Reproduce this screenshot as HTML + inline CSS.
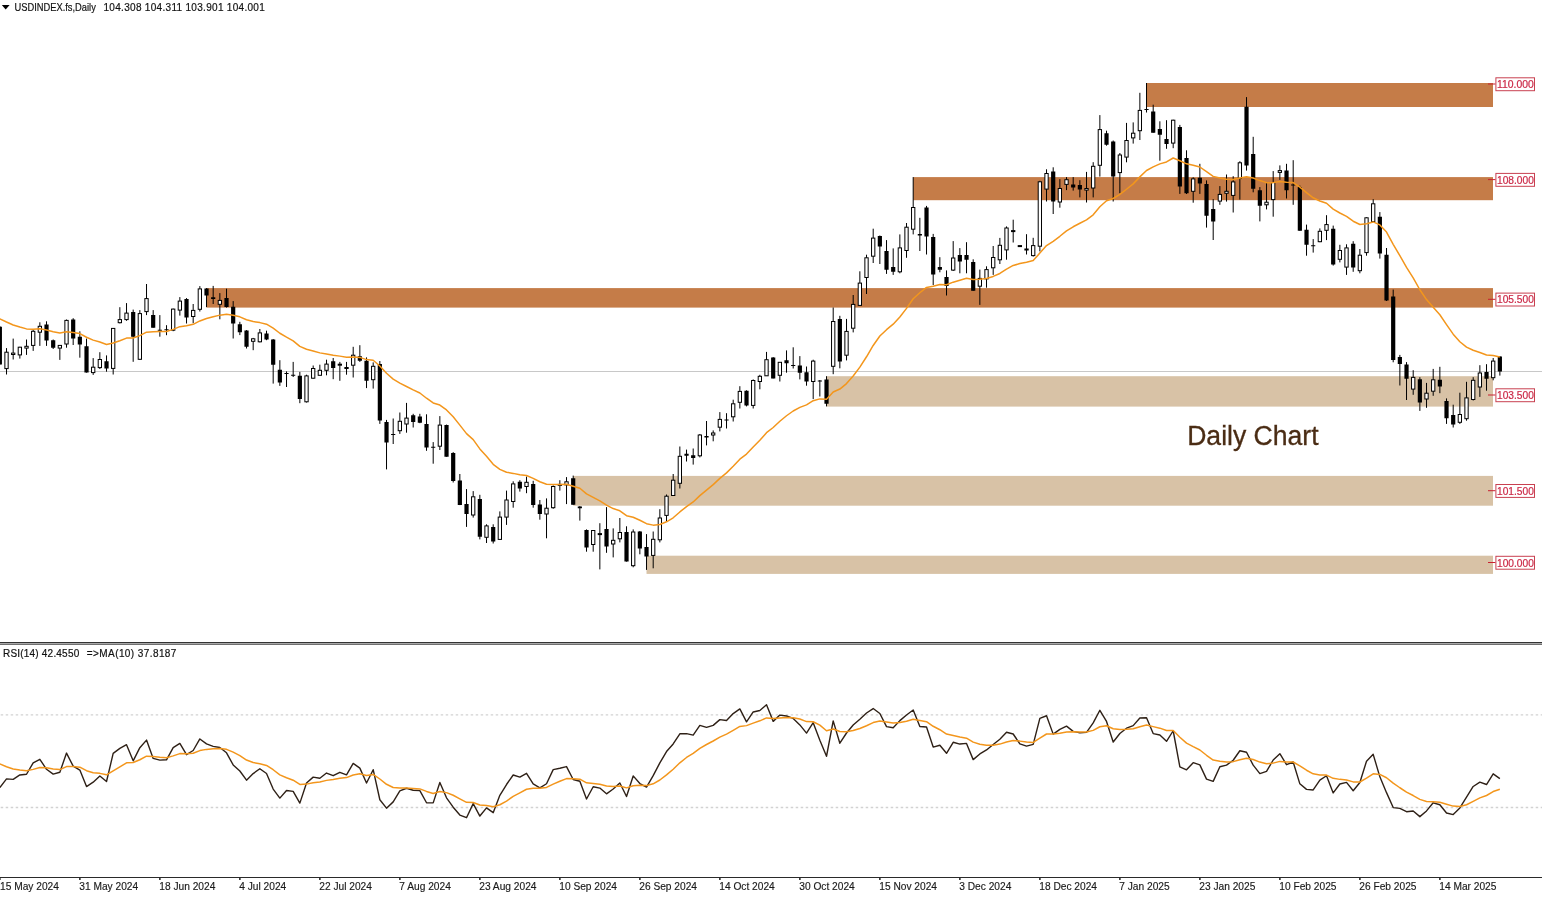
<!DOCTYPE html>
<html><head><meta charset="utf-8"><style>
html,body{margin:0;padding:0;background:#fff;}
body{width:1542px;height:897px;overflow:hidden;}
svg{display:block;will-change:transform;}
.tt{font-family:"Liberation Sans",sans-serif;font-size:10px;fill:#111;stroke:#111;stroke-width:0.18px;}
.dt{font-family:"Liberation Sans",sans-serif;font-size:10.2px;fill:#1a1a1a;stroke:#1a1a1a;stroke-width:0.15px;}
.lbl{font-family:"Liberation Sans",sans-serif;font-size:10.6px;fill:#cc2a48;stroke:#cc2a48;stroke-width:0.22px;}
.dc{font-family:"Liberation Sans",sans-serif;font-size:27px;fill:#4a2c14;stroke:#4a2c14;stroke-width:0.3px;}
</style></head><body>
<svg width="1542" height="897" viewBox="0 0 1542 897">
<rect x="1146.52" y="83" width="346.48" height="24" fill="#c57c48"/>
<rect x="913.19" y="177.1" width="579.81" height="23.1" fill="#c57c48"/>
<rect x="206.52" y="288.1" width="1286.48" height="19.5" fill="#c57c48"/>
<rect x="826.52" y="376.2" width="666.48" height="30.4" fill="#d8c2a6"/>
<rect x="573.19" y="475.9" width="919.81" height="29.8" fill="#d8c2a6"/>
<rect x="646.52" y="555.7" width="846.48" height="18.2" fill="#d8c2a6"/>
<rect x="0" y="371" width="1542" height="1" fill="#c8c8c8"/>
<path d="M-0.15 326V364.5M6.52 348.1V374.5M13.18 338.6V359.5M19.85 346.8V358.6M26.52 339.5V354.9M33.18 330V350.9M39.85 322.3V345.9M46.52 321.3V345.9M53.18 339.5V349M59.85 345V359.9M66.52 319.5V347.7M73.18 318.2V345M79.85 331.3V357.7M86.52 338.6V372.6M93.18 358.1V374.9M99.85 352.2V369M106.52 355.4V371.7M113.18 328.2V374.5M119.85 307.2V323.4M126.52 303.1V320.8M133.18 309.6V361.8M139.85 310.1V359.8M146.52 284V315.1M153.18 310.1V327.7M159.85 315.1V336.7M166.52 325.2V335.2M173.18 308.6V331.2M179.85 297.1V315.6M186.52 298.1V323.5M193.18 304V323.2M199.85 286.1V311.5M206.52 288.1V307.1M213.18 285.9V304M219.85 293.1V319.3M226.52 288.7V307.6M233.18 301.1V338.5M239.85 321.8V335.1M246.52 330.1V348.5M253.18 337.9V350.2M259.85 329V342.4M266.52 330.7V340.2M273.18 339V383.6M279.85 360.2V385.9M286.52 371.4V387M293.18 361.9V377M299.85 371.9V403.2M306.52 374.7V402.5M313.18 365.5V378.6M319.85 364.7V375.3M326.52 359.7V375.3M333.19 358V379.2M339.85 361.9V380.8M346.52 361.9V374.7M353.19 346.8V377.5M359.85 345.2V361.9M366.52 357.4V388.1M373.19 362.4V388.6M379.85 361V423.9M386.52 419.9V469.4M393.19 418.5V444M399.85 412.5V433.9M406.52 402.9V432.7M413.19 413.8V427.5M419.85 413.8V423.2M426.52 414.3V450.8M433.19 442.1V463.7M439.85 416.1V450M446.52 424.6V456.7M453.19 452.1V482.5M459.85 474V505.1M466.52 489.1V526.9M473.19 491.1V517.6M479.85 494.8V539.4M486.52 524.3V543M493.19 524.3V543.5M499.85 511.4V539.4M506.52 490.6V524.9M513.19 481.3V507.7M519.85 480.2V491.6M526.52 476.6V493.2M533.19 480.8V507.7M539.85 500V519.7M546.52 498.4V538.3M553.19 485.4V508.8M559.85 480.2V490.6M566.52 477.1V504.1M573.19 475.6V504.8M579.85 506.1V520.6M586.52 529.4V551.7M593.19 530V551.7M599.85 523.2V569.4M606.52 507.1V552.8M613.19 528.4V557.4M619.85 518V542.4M626.52 526.3V561.6M633.19 529.4V567.3M639.85 531V554.3M646.52 534.1V569.9M653.19 531.5V568.3M659.85 509.2V542.4M666.52 494.5V521.1M673.19 474V495.7M679.85 446.5V488.5M686.52 449.6V461.5M693.19 448.5V464.6M699.85 434V457.4M706.52 421V445.4M713.19 430.4V441.3M719.85 412.1V431.4M726.52 413.2V428.5M733.19 399.7V421.5M739.85 386.2V408.5M746.52 390.3V406.4M753.19 379.4V408.5M759.85 374.8V389.3M766.52 351.9V375.8M773.19 357.1V378.4M779.85 362.3V381.5M786.52 350.4V372.7M793.19 347.3V368.5M799.85 356.1V379.4M806.52 366.5V385.7M813.19 359.7V399.1M819.85 380V396.5M826.52 376.2V406.4M833.19 307.5V374.2M839.85 315.8V368.3M846.52 318.9V360.4M853.19 295V332.4M859.85 271.3V305.4M866.52 254.7V294M873.19 228.7V263M879.85 235.5V264M886.52 240.1V273.9M893.19 248.4V274.9M899.85 234.4V273.3M906.52 223V257.8M913.19 177.1V234.4M919.85 217.8V251M926.52 205.9V254.5M933.19 233.9V285.1M939.85 257.2V272.3M946.52 270.4V295.5M953.19 241.1V271M959.85 248.1V273.3M966.52 242.2V273.3M973.19 259.3V290.8M979.85 269.6V304.9M986.52 266.3V287.7M993.19 246V274.9M999.86 237.9V264M1006.52 226.4V259.7M1013.19 219.7V242.5M1019.86 245.6V246.6M1026.52 234.2V254.5M1033.19 237.8V256.6M1039.86 180.8V251.4M1046.52 169.3V201.5M1053.19 167.3V214M1059.86 179.2V207.7M1066.52 177.1V190.1M1073.19 177.1V190.6M1079.86 180.2V197.4M1086.52 171.9V202.5M1093.19 162.2V197.4M1099.86 115.1V176.6M1106.52 130.7V145.7M1113.19 140.5V201.5M1119.86 153V193.2M1126.52 122.9V162.3M1133.19 122.4V143.6M1139.86 92.8V140M1146.52 83V112.5M1153.19 104.7V132.7M1159.86 121.3V160.7M1166.52 120.2V148.8M1173.19 119.7V148.2M1179.86 124.9V193.9M1186.52 150.3V194M1193.19 177.3V202.7M1199.86 163.8V193.9M1206.52 180.4V227.6M1213.19 199.1V240M1219.86 186.1V204.8M1226.52 174.5V201.6M1233.19 176.2V212.5M1239.86 161.2V199.6M1246.52 97.1V170.6M1253.19 136.8V192.3M1259.86 187.1V221.4M1266.52 183V209.4M1273.19 171.1V216.7M1279.86 165.4V179.9M1286.52 163.8V198.5M1293.19 160.2V204.8M1299.86 185.6V230.8M1306.52 224.6V255.7M1313.19 239.1V252.6M1319.86 228.4V242.2M1326.52 215.2V240.1M1333.19 225.6V265.6M1339.86 244.8V262.4M1346.52 244.3V274.9M1353.19 241.2V271.8M1359.86 249V273.3M1366.52 217.3V255.7M1373.19 199.2V221.5M1379.86 212.1V258.6M1386.52 248V301M1393.19 289.6V362.3M1399.86 354.9V385.5M1406.52 362.1V400M1413.19 370.2V394.8M1419.86 377.2V410.9M1426.52 382.9V407.8M1433.19 368.9V395.8M1439.86 366.8V393.2M1446.52 398.4V423.9M1453.19 404.7V427.5M1459.86 392.7V423.9M1466.52 381.8V420.7M1473.19 377.2V400.5M1479.86 365.2V396.9M1486.52 364.2V390.7M1493.19 358V380.3M1499.86 356V375.6" stroke="#000" stroke-width="1.0" fill="none"/>
<path d="M-2.25 326.8h4.2V364.5h-4.2ZM44.42 324.5h4.2V340.4h-4.2ZM51.08 340.2h4.2V347.7h-4.2ZM71.08 319.5h4.2V338.6h-4.2ZM77.75 336.8h4.2V344.5h-4.2ZM84.42 346.3h4.2V372.6h-4.2ZM104.42 361.3h4.2V368.6h-4.2ZM131.08 312h4.2V336.7h-4.2ZM151.08 315.1h4.2V327.7h-4.2ZM157.75 329.7h4.2V330.7h-4.2ZM164.42 329.2h4.2V330.2h-4.2ZM184.42 299h4.2V317.6h-4.2ZM204.42 288.4h4.2V295.6h-4.2ZM211.08 297.3h4.2V299h-4.2ZM224.42 298.1h4.2V307.1h-4.2ZM231.08 306.7h4.2V323.4h-4.2ZM237.75 324.2h4.2V332.3h-4.2ZM244.42 330.5h4.2V346.8h-4.2ZM264.42 333.5h4.2V339.6h-4.2ZM271.08 339.6h4.2V364.7h-4.2ZM277.75 369.7h4.2V382.5h-4.2ZM284.42 373.1h4.2V374.1h-4.2ZM291.08 374.8h4.2V375.8h-4.2ZM297.75 375.7h4.2V399.1h-4.2ZM331.08 361.3h4.2V368h-4.2ZM357.75 356.3h4.2V360.8h-4.2ZM364.42 360.8h4.2V380.8h-4.2ZM377.75 363.9h4.2V420.6h-4.2ZM384.42 421.9h4.2V442.6h-4.2ZM391.09 434.1h4.2V435.1h-4.2ZM411.09 415.2h4.2V422h-4.2ZM417.75 416.6h4.2V422.8h-4.2ZM424.42 424h4.2V447.6h-4.2ZM431.09 446.8h4.2V447.8h-4.2ZM444.42 425.1h4.2V456.7h-4.2ZM451.09 453.1h4.2V481h-4.2ZM457.75 480.4h4.2V505.1h-4.2ZM464.42 504.1h4.2V514h-4.2ZM477.75 498.9h4.2V536.8h-4.2ZM491.09 526.9h4.2V541.5h-4.2ZM517.75 481.8h4.2V488.5h-4.2ZM531.09 483.9h4.2V505.1h-4.2ZM537.75 504.6h4.2V514h-4.2ZM571.09 478.2h4.2V504.8h-4.2ZM577.75 506.4h4.2V508.2h-4.2ZM584.42 530h4.2V547.6h-4.2ZM604.42 528.9h4.2V546.5h-4.2ZM624.42 532h4.2V561.6h-4.2ZM637.75 531.5h4.2V548.6h-4.2ZM644.42 547.1h4.2V556.4h-4.2ZM684.42 453.7h4.2V455.8h-4.2ZM691.09 455.3h4.2V457.9h-4.2ZM704.42 436.1h4.2V437.6h-4.2ZM724.42 419.4h4.2V420.4h-4.2ZM744.42 390.8h4.2V405.4h-4.2ZM771.09 357.6h4.2V378.4h-4.2ZM784.42 360.2h4.2V363.3h-4.2ZM791.09 364.9h4.2V365.9h-4.2ZM797.75 365.4h4.2V372.7h-4.2ZM804.42 372.2h4.2V381.5h-4.2ZM817.75 380.5h4.2V381.5h-4.2ZM824.42 379.4h4.2V403.8h-4.2ZM837.75 318.9h4.2V361.6h-4.2ZM877.75 236h4.2V246.4h-4.2ZM884.42 251h4.2V269.7h-4.2ZM891.09 267.1h4.2V271.8h-4.2ZM917.75 233.9h4.2V235.5h-4.2ZM924.42 207.5h4.2V236.5h-4.2ZM931.09 237h4.2V274.5h-4.2ZM937.75 267.1h4.2V269.7h-4.2ZM944.42 276.9h4.2V285.9h-4.2ZM957.75 254.9h4.2V261.4h-4.2ZM964.42 255.1h4.2V259.8h-4.2ZM971.09 261.9h4.2V290.8h-4.2ZM1051.09 171.4h4.2V201.5h-4.2ZM1071.09 184.4h4.2V187.5h-4.2ZM1077.76 184.9h4.2V189.6h-4.2ZM1104.42 133.2h4.2V144.7h-4.2ZM1111.09 141.5h4.2V176.6h-4.2ZM1144.42 109h4.2V110h-4.2ZM1151.09 111.5h4.2V132.7h-4.2ZM1157.76 129.1h4.2V134.8h-4.2ZM1164.42 138.9h4.2V144.1h-4.2ZM1177.76 127h4.2V186.6h-4.2ZM1184.42 158.1h4.2V193.3h-4.2ZM1197.76 177.8h4.2V183.5h-4.2ZM1204.42 184h4.2V215.7h-4.2ZM1211.09 208.9h4.2V221.4h-4.2ZM1244.42 106.7h4.2V165.4h-4.2ZM1251.09 154h4.2V188.7h-4.2ZM1257.76 190.2h4.2V205.8h-4.2ZM1284.42 170.6h4.2V190.2h-4.2ZM1291.09 184.5h4.2V185.5h-4.2ZM1297.76 187.1h4.2V230.8h-4.2ZM1304.42 229.8h4.2V244.8h-4.2ZM1311.09 245.3h4.2V246.3h-4.2ZM1331.09 228.7h4.2V264.5h-4.2ZM1351.09 243.8h4.2V267.6h-4.2ZM1377.76 216.8h4.2V253.4h-4.2ZM1384.42 254.8h4.2V300.5h-4.2ZM1391.09 296.4h4.2V360h-4.2ZM1397.76 356.9h4.2V363.9h-4.2ZM1404.42 364.5h4.2V378.7h-4.2ZM1417.76 379.2h4.2V402.6h-4.2ZM1437.76 379.8h4.2V386.5h-4.2ZM1444.42 401h4.2V418.2h-4.2ZM1451.09 415h4.2V424.4h-4.2ZM1484.42 372h4.2V378.7h-4.2ZM1497.76 356.4h4.2V371.5h-4.2Z" fill="#000"/>
<g fill="#fff" stroke="#000" stroke-width="1.0"><rect x="4.87" y="352.2" width="3.3" height="16.4"/><rect x="11.53" y="353.1" width="3.3" height="1.4"/><rect x="18.2" y="347.2" width="3.3" height="7.7"/><rect x="24.87" y="346.3" width="3.3" height="1.8"/><rect x="31.53" y="331.3" width="3.3" height="14.1"/><rect x="38.2" y="326.3" width="3.3" height="5.9"/><rect x="58.2" y="345.4" width="3.3" height="2.7"/><rect x="64.87" y="320.4" width="3.3" height="23.6"/><rect x="91.53" y="367.2" width="3.3" height="5.4"/><rect x="98.2" y="359.5" width="3.3" height="8.1"/><rect x="111.53" y="328.4" width="3.3" height="40"/><rect x="118.2" y="319.6" width="3.3" height="3.1"/><rect x="124.87" y="313.1" width="3.3" height="6.5"/><rect x="138.2" y="313.6" width="3.3" height="45.7"/><rect x="144.87" y="298.6" width="3.3" height="13"/><rect x="171.53" y="309.1" width="3.3" height="21.1"/><rect x="178.2" y="301.1" width="3.3" height="9"/><rect x="191.53" y="310.4" width="3.3" height="6.1"/><rect x="198.2" y="288.9" width="3.3" height="20.4"/><rect x="218.2" y="300.4" width="3.3" height="3.9"/><rect x="251.53" y="338.8" width="3.3" height="2.5"/><rect x="258.2" y="332.9" width="3.3" height="8.9"/><rect x="304.87" y="375.9" width="3.3" height="25.9"/><rect x="311.53" y="368.5" width="3.3" height="9.7"/><rect x="318.2" y="370.3" width="3.3" height="5"/><rect x="324.87" y="364.1" width="3.3" height="6.2"/><rect x="338.2" y="364.2" width="3.3" height="1"/><rect x="344.87" y="367.5" width="3.3" height="1"/><rect x="351.54" y="355.2" width="3.3" height="10"/><rect x="371.54" y="366.3" width="3.3" height="13.4"/><rect x="398.2" y="421.3" width="3.3" height="9.4"/><rect x="404.87" y="418.1" width="3.3" height="5.9"/><rect x="438.2" y="425.1" width="3.3" height="21.1"/><rect x="471.54" y="496.8" width="3.3" height="18.2"/><rect x="484.87" y="525.9" width="3.3" height="11.4"/><rect x="498.2" y="517.1" width="3.3" height="22.3"/><rect x="504.87" y="500" width="3.3" height="17.1"/><rect x="511.54" y="483.9" width="3.3" height="17.6"/><rect x="524.87" y="482.3" width="3.3" height="4.2"/><rect x="544.87" y="508.2" width="3.3" height="5.8"/><rect x="551.54" y="486.5" width="3.3" height="21.2"/><rect x="558.2" y="484.4" width="3.3" height="1"/><rect x="564.87" y="481.8" width="3.3" height="3.1"/><rect x="591.54" y="530.5" width="3.3" height="14"/><rect x="598.2" y="533.6" width="3.3" height="1"/><rect x="611.54" y="540.3" width="3.3" height="3.7"/><rect x="618.2" y="532.5" width="3.3" height="6.3"/><rect x="631.54" y="532" width="3.3" height="33.7"/><rect x="651.54" y="539.3" width="3.3" height="16.1"/><rect x="658.2" y="518" width="3.3" height="21.8"/><rect x="664.87" y="496.2" width="3.3" height="19.2"/><rect x="671.54" y="480.2" width="3.3" height="15.3"/><rect x="678.2" y="456.3" width="3.3" height="27"/><rect x="698.2" y="435" width="3.3" height="20.8"/><rect x="711.54" y="433" width="3.3" height="2"/><rect x="718.2" y="419.4" width="3.3" height="7.8"/><rect x="731.54" y="403.8" width="3.3" height="13"/><rect x="738.2" y="391.4" width="3.3" height="10.9"/><rect x="751.54" y="380.5" width="3.3" height="24.9"/><rect x="758.2" y="376.3" width="3.3" height="5.2"/><rect x="764.87" y="359.7" width="3.3" height="16.1"/><rect x="778.2" y="362.3" width="3.3" height="13"/><rect x="811.54" y="361.1" width="3.3" height="20.4"/><rect x="831.54" y="321.5" width="3.3" height="44.8"/><rect x="844.87" y="331.4" width="3.3" height="23.8"/><rect x="851.54" y="304.4" width="3.3" height="23.8"/><rect x="858.2" y="283.1" width="3.3" height="22.3"/><rect x="864.87" y="257.8" width="3.3" height="19.7"/><rect x="871.54" y="238.1" width="3.3" height="18.1"/><rect x="898.2" y="247.9" width="3.3" height="23.9"/><rect x="904.87" y="227.2" width="3.3" height="23.3"/><rect x="911.54" y="207.5" width="3.3" height="21.7"/><rect x="951.54" y="258" width="3.3" height="12.1"/><rect x="978.2" y="278.4" width="3.3" height="7.8"/><rect x="984.87" y="269.6" width="3.3" height="9.3"/><rect x="991.54" y="257.5" width="3.3" height="10.3"/><rect x="998.21" y="245.3" width="3.3" height="14.5"/><rect x="1004.87" y="228" width="3.3" height="21.9"/><rect x="1011.54" y="230.6" width="3.3" height="1"/><rect x="1018.21" y="245.6" width="3.3" height="1"/><rect x="1024.87" y="249" width="3.3" height="1"/><rect x="1031.54" y="245.6" width="3.3" height="10"/><rect x="1038.21" y="181.8" width="3.3" height="64.4"/><rect x="1044.87" y="173.5" width="3.3" height="15.6"/><rect x="1058.21" y="188.5" width="3.3" height="13.5"/><rect x="1064.87" y="179.7" width="3.3" height="4.7"/><rect x="1084.87" y="188.5" width="3.3" height="1.6"/><rect x="1091.54" y="166.3" width="3.3" height="21.7"/><rect x="1098.21" y="129.6" width="3.3" height="35.7"/><rect x="1118.21" y="155" width="3.3" height="17.6"/><rect x="1124.87" y="140.5" width="3.3" height="16.6"/><rect x="1131.54" y="133.2" width="3.3" height="4.7"/><rect x="1138.21" y="110.4" width="3.3" height="20.3"/><rect x="1171.54" y="120.2" width="3.3" height="22.9"/><rect x="1191.54" y="178.9" width="3.3" height="12.4"/><rect x="1218.21" y="194.4" width="3.3" height="6.7"/><rect x="1224.87" y="191.3" width="3.3" height="2"/><rect x="1231.54" y="181.9" width="3.3" height="13.5"/><rect x="1238.21" y="162.8" width="3.3" height="15.5"/><rect x="1264.87" y="202.2" width="3.3" height="2.6"/><rect x="1271.54" y="182.5" width="3.3" height="17.1"/><rect x="1278.21" y="170.6" width="3.3" height="1.8"/><rect x="1318.21" y="231.3" width="3.3" height="10.4"/><rect x="1324.87" y="224.6" width="3.3" height="5.7"/><rect x="1338.21" y="250.5" width="3.3" height="8.8"/><rect x="1344.87" y="247.9" width="3.3" height="19.2"/><rect x="1358.21" y="255.2" width="3.3" height="15.5"/><rect x="1364.87" y="217.8" width="3.3" height="34.8"/><rect x="1371.54" y="203.8" width="3.3" height="17.7"/><rect x="1411.54" y="377.4" width="3.3" height="11.7"/><rect x="1424.87" y="393.2" width="3.3" height="5.8"/><rect x="1431.54" y="379.8" width="3.3" height="11.4"/><rect x="1458.21" y="414.5" width="3.3" height="7.8"/><rect x="1464.87" y="397.9" width="3.3" height="20.8"/><rect x="1471.54" y="380.3" width="3.3" height="19.2"/><rect x="1478.21" y="373" width="3.3" height="14"/><rect x="1491.54" y="361.1" width="3.3" height="16.6"/></g>
<polyline points="-7,318.1 -0.15,318.81 6.52,321.99 13.18,324.95 19.85,327.07 26.52,328.9 33.18,329.13 39.85,328.86 46.52,329.96 53.18,331.65 59.85,332.96 66.52,331.76 73.18,332.41 79.85,333.57 86.52,337.28 93.18,340.13 99.85,341.98 106.52,344.51 113.18,342.98 119.85,340.75 126.52,338.12 133.18,337.98 139.85,335.66 146.52,332.13 153.18,331.71 159.85,331.61 166.52,331.48 173.18,329.35 179.85,326.66 186.52,325.79 193.18,324.33 199.85,320.95 206.52,318.54 213.18,316.68 219.85,315.13 226.52,314.36 233.18,315.22 239.85,316.85 246.52,319.7 253.18,321.52 259.85,322.61 266.52,324.22 273.18,328.08 279.85,333.26 286.52,337.15 293.18,340.83 299.85,346.38 306.52,349.19 313.18,351.03 319.85,352.87 326.52,353.94 333.19,355.28 339.85,356.13 346.52,357.21 353.19,357.02 359.85,357.38 366.52,359.61 373.19,360.25 379.85,365.99 386.52,373.29 393.19,379.18 399.85,383.19 406.52,386.51 413.19,389.89 419.85,393.03 426.52,398.22 433.19,402.95 439.85,405.06 446.52,409.97 453.19,416.74 459.85,425.15 466.52,433.62 473.19,439.63 479.85,448.89 486.52,456.22 493.19,464.34 499.85,469.37 506.52,472.29 513.19,473.39 519.85,474.83 526.52,475.54 533.19,478.36 539.85,481.75 546.52,484.27 553.19,484.48 559.85,484.47 566.52,484.22 573.19,486.18 579.85,488.28 586.52,493.93 593.19,497.41 599.85,500.86 606.52,505.2 613.19,508.55 619.85,510.83 626.52,515.66 633.19,517.22 639.85,520.21 646.52,523.65 653.19,525.14 659.85,524.46 666.52,521.77 673.19,517.81 679.85,511.95 686.52,506.61 693.19,501.97 699.85,495.59 706.52,490.07 713.19,484.63 719.85,478.42 726.52,472.89 733.19,466.31 739.85,459.18 746.52,454.06 753.19,447.05 759.85,440.31 766.52,432.64 773.19,427.47 779.85,421.26 786.52,415.74 793.19,411 799.85,407.35 806.52,404.89 813.19,400.72 819.85,398.89 826.52,399.35 833.19,391.94 839.85,389.05 846.52,383.56 853.19,376.02 859.85,367.17 866.52,356.76 873.19,345.45 879.85,336.02 886.52,329.7 893.19,324.19 899.85,316.92 906.52,308.38 913.19,298.77 919.85,292.75 926.52,287.39 933.19,286.16 939.85,284.59 946.52,284.72 953.19,282.17 959.85,280.2 966.52,278.25 973.19,279.45 979.85,279.35 986.52,278.42 993.19,276.43 999.86,273.46 1006.52,269.13 1013.19,265.46 1019.86,263.57 1026.52,262.18 1033.19,260.6 1039.86,253.1 1046.52,245.52 1053.19,241.33 1059.86,236.29 1066.52,230.9 1073.19,226.77 1079.86,223.23 1086.52,219.92 1093.19,214.82 1099.86,206.7 1106.52,200.8 1113.19,198.49 1119.86,194.35 1126.52,189.22 1133.19,183.89 1139.86,176.89 1146.52,170.52 1153.19,166.92 1159.86,163.86 1166.52,161.97 1173.19,158 1179.86,160.72 1186.52,163.82 1193.19,165.26 1199.86,167 1206.52,171.63 1213.19,176.37 1219.86,178.09 1226.52,179.35 1233.19,179.59 1239.86,177.99 1246.52,176.79 1253.19,177.93 1259.86,180.58 1266.52,182.64 1273.19,182.63 1279.86,181.48 1286.52,182.31 1293.19,182.62 1299.86,187.2 1306.52,192.69 1313.19,197.8 1319.86,200.99 1326.52,203.24 1333.19,209.07 1339.86,213.02 1346.52,216.34 1353.19,221.22 1359.86,224.46 1366.52,223.82 1373.19,221.92 1379.86,224.91 1386.52,232.11 1393.19,244.29 1399.86,255.68 1406.52,267.4 1413.19,277.88 1419.86,289.75 1426.52,299.61 1433.19,307.24 1439.86,314.79 1446.52,324.64 1453.19,334.14 1459.86,341.79 1466.52,347.14 1473.19,350.3 1479.86,352.46 1486.52,354.96 1493.19,355.54 1499.86,357.06" fill="none" stroke="#f3961c" stroke-width="1.5" stroke-linejoin="round"/>
<rect x="1488" y="83.5" width="7.5" height="1" fill="#c82030"/>
<rect x="1495.9" y="77.8" width="38.6" height="12.9" fill="#fff" stroke="#c84050" stroke-width="1"/>
<text x="1497" y="88" textLength="36.8" lengthAdjust="spacingAndGlyphs" class="lbl">110.000</text>
<rect x="1488" y="179.1" width="7.5" height="1" fill="#c82030"/>
<rect x="1495.9" y="173.4" width="38.6" height="12.9" fill="#fff" stroke="#c84050" stroke-width="1"/>
<text x="1497" y="183.6" textLength="36.8" lengthAdjust="spacingAndGlyphs" class="lbl">108.000</text>
<rect x="1488" y="298.8" width="7.5" height="1" fill="#c82030"/>
<rect x="1495.9" y="293.1" width="38.6" height="12.9" fill="#fff" stroke="#c84050" stroke-width="1"/>
<text x="1497" y="303.3" textLength="36.8" lengthAdjust="spacingAndGlyphs" class="lbl">105.500</text>
<rect x="1488" y="394.5" width="7.5" height="1" fill="#c82030"/>
<rect x="1495.9" y="388.8" width="38.6" height="12.9" fill="#fff" stroke="#c84050" stroke-width="1"/>
<text x="1497" y="399" textLength="36.8" lengthAdjust="spacingAndGlyphs" class="lbl">103.500</text>
<rect x="1488" y="490.2" width="7.5" height="1" fill="#c82030"/>
<rect x="1495.9" y="484.5" width="38.6" height="12.9" fill="#fff" stroke="#c84050" stroke-width="1"/>
<text x="1497" y="494.7" textLength="36.8" lengthAdjust="spacingAndGlyphs" class="lbl">101.500</text>
<rect x="1488" y="562" width="7.5" height="1" fill="#c82030"/>
<rect x="1495.9" y="556.3" width="38.6" height="12.9" fill="#fff" stroke="#c84050" stroke-width="1"/>
<text x="1497" y="566.5" textLength="36.8" lengthAdjust="spacingAndGlyphs" class="lbl">100.000</text>
<rect x="0" y="642" width="1542" height="1" fill="#333"/>
<rect x="0" y="643" width="1542" height="1" fill="#a8a8a8"/>
<rect x="0" y="644" width="1542" height="1" fill="#707070"/>
<line x1="0" y1="714.9" x2="1542" y2="714.9" stroke="#d2d2d2" stroke-width="1.4" stroke-dasharray="2.5,2.5" stroke-dashoffset="-0.7"/>
<line x1="0" y1="807.5" x2="1542" y2="807.5" stroke="#d2d2d2" stroke-width="1.4" stroke-dasharray="2.5,2.5" stroke-dashoffset="-0.7"/>
<polyline points="-0.15,787.62 6.52,778.87 13.18,779.34 19.85,774.93 26.52,774.23 33.18,762.88 39.85,759.28 46.52,769.29 53.18,774.16 59.85,772.21 66.52,753.09 73.18,766.16 79.85,770.1 86.52,786.56 93.18,782.19 99.85,775.98 106.52,781.49 113.18,753.41 119.85,748.39 126.52,744.73 133.18,760.85 139.85,747.67 146.52,740.11 153.18,758.39 159.85,760.12 166.52,759.82 173.18,747.64 179.85,743.37 186.52,754.67 193.18,750.48 199.85,738.96 206.52,743.85 213.18,746.37 219.85,747.46 226.52,752.81 233.18,764.92 239.85,770.99 246.52,780.2 253.18,773.57 259.85,768.75 266.52,773.5 273.18,789.06 279.85,798.12 286.52,790.5 293.18,791.43 299.85,803.12 306.52,782.92 313.18,777.13 319.85,778.22 326.52,773.05 333.19,775.71 339.85,772.29 346.52,774.79 353.19,763.43 359.85,768.11 366.52,782.99 373.19,769.69 379.85,799.73 386.52,808.14 393.19,801.87 399.85,790.78 406.52,788.25 413.19,790.23 419.85,790.65 426.52,802.78 433.19,802.87 439.85,782.41 446.52,797.8 453.19,807.2 459.85,815.05 466.52,817.71 473.19,803.58 479.85,816.06 486.52,807.93 493.19,812.64 499.85,795.36 506.52,784.51 513.19,775 519.85,777.09 526.52,773.27 533.19,783.95 539.85,787.8 546.52,783.77 553.19,769.58 559.85,768.27 566.52,766.56 573.19,779.45 579.85,781.23 586.52,798.98 593.19,786.71 599.85,788.09 606.52,793.81 613.19,789.02 619.85,783 626.52,796.51 633.19,775.91 639.85,783.58 646.52,787.04 653.19,775.64 659.85,762.94 666.52,751.53 673.19,743.96 679.85,733.82 686.52,733.62 693.19,735.1 699.85,725.37 706.52,727.35 713.19,725.35 719.85,719.6 726.52,720.49 733.19,713.58 739.85,708.88 746.52,721.84 753.19,711.97 759.85,710.45 766.52,704.66 773.19,721.38 779.85,715.09 786.52,715.98 793.19,718.42 799.85,724.9 806.52,733.1 813.19,722.67 819.85,740.15 826.52,756.25 833.19,720.85 839.85,743.21 846.52,733 853.19,725 859.85,719.27 866.52,713.03 873.19,708.56 879.85,713.45 886.52,726.64 893.19,727.81 899.85,720.62 906.52,714.96 913.19,709.98 919.85,726.43 926.52,727 933.19,747.06 939.85,745.24 946.52,753.28 953.19,742.29 959.85,744.06 966.52,743.4 973.19,759.63 979.85,753.94 986.52,749.95 993.19,744.56 999.86,739.3 1006.52,732.27 1013.19,734 1019.86,743.88 1026.52,746.09 1033.19,744.31 1039.86,718.35 1046.52,715.76 1053.19,734.12 1059.86,729.33 1066.52,726.15 1073.19,731.4 1079.86,732.85 1086.52,732.36 1093.19,722.89 1099.86,710.29 1106.52,721.46 1113.19,742.02 1119.86,733.5 1126.52,728.22 1133.19,725.61 1139.86,717.93 1146.52,717.8 1153.19,733.58 1159.86,734.98 1166.52,741.31 1173.19,730.75 1179.86,766.91 1186.52,769.79 1193.19,762.67 1199.86,764.87 1206.52,779.09 1213.19,781.4 1219.86,766.75 1226.52,765.16 1233.19,760.23 1239.86,750.74 1246.52,752.25 1253.19,765.14 1259.86,773.58 1266.52,771.42 1273.19,760.02 1279.86,753.65 1286.52,764.69 1293.19,761.99 1299.86,783.83 1306.52,789.37 1313.19,789.97 1319.86,780.07 1326.52,775.77 1333.19,792.93 1339.86,784.03 1346.52,782.38 1353.19,790.75 1359.86,782.5 1366.52,761.17 1373.19,754.34 1379.86,776.84 1386.52,792.66 1393.19,807.57 1399.86,808.43 1406.52,811.71 1413.19,810.96 1419.86,816.65 1426.52,810.91 1433.19,802.81 1439.86,804.71 1446.52,813.05 1453.19,814.57 1459.86,807.92 1466.52,797.15 1473.19,786.47 1479.86,782.17 1486.52,784.53 1493.19,773.85 1499.86,778.65" fill="none" stroke="#2e2016" stroke-width="1.4" stroke-linejoin="round"/>
<polyline points="-0.15,763.99 6.52,766.69 13.18,768.99 19.85,770.07 26.52,770.83 33.18,769.38 39.85,767.55 46.52,767.86 53.18,769.01 59.85,769.59 66.52,766.59 73.18,766.51 79.85,767.16 86.52,770.69 93.18,772.78 99.85,773.36 106.52,774.84 113.18,770.94 119.85,766.84 126.52,762.82 133.18,762.46 139.85,759.77 146.52,756.2 153.18,756.6 159.85,757.24 166.52,757.71 173.18,755.87 179.85,753.6 186.52,753.8 193.18,753.19 199.85,750.6 206.52,749.38 213.18,748.83 219.85,748.58 226.52,749.35 233.18,752.18 239.85,755.6 246.52,760.07 253.18,762.53 259.85,763.66 266.52,765.45 273.18,769.74 279.85,774.9 286.52,777.74 293.18,780.23 299.85,784.39 306.52,784.12 313.18,782.85 319.85,782.01 326.52,780.38 333.19,779.53 339.85,778.21 346.52,777.59 353.19,775.02 359.85,773.76 366.52,775.44 373.19,774.4 379.85,779 386.52,784.3 393.19,787.49 399.85,788.09 406.52,788.12 413.19,788.5 419.85,788.89 426.52,791.42 433.19,793.5 439.85,791.49 446.52,792.63 453.19,795.28 459.85,798.88 466.52,802.3 473.19,802.53 479.85,804.99 486.52,805.53 493.19,806.82 499.85,804.74 506.52,801.06 513.19,796.32 519.85,792.83 526.52,789.27 533.19,788.3 539.85,788.21 546.52,787.4 553.19,784.16 559.85,781.27 566.52,778.6 573.19,778.75 579.85,779.2 586.52,782.8 593.19,783.51 599.85,784.34 606.52,786.06 613.19,786.6 619.85,785.95 626.52,787.87 633.19,785.69 639.85,785.31 646.52,785.62 653.19,783.81 659.85,780.01 666.52,774.84 673.19,769.22 679.85,762.79 686.52,757.48 693.19,753.41 699.85,748.31 706.52,744.5 713.19,741.02 719.85,737.13 726.52,734.1 733.19,730.37 739.85,726.46 746.52,725.62 753.19,723.14 759.85,720.83 766.52,717.89 773.19,718.53 779.85,717.9 786.52,717.55 793.19,717.71 799.85,719.02 806.52,721.58 813.19,721.78 819.85,725.12 826.52,730.78 833.19,728.97 839.85,731.56 846.52,731.82 853.19,730.58 859.85,728.53 866.52,725.71 873.19,722.59 879.85,720.93 886.52,721.97 893.19,723.03 899.85,722.59 906.52,721.2 913.19,719.16 919.85,720.48 926.52,721.67 933.19,726.29 939.85,729.73 946.52,734.01 953.19,735.52 959.85,737.07 966.52,738.22 973.19,742.11 979.85,744.26 986.52,745.3 993.19,745.16 999.86,744.1 1006.52,741.95 1013.19,740.5 1019.86,741.12 1026.52,742.02 1033.19,742.44 1039.86,738.06 1046.52,734 1053.19,734.03 1059.86,733.17 1066.52,731.89 1073.19,731.8 1079.86,732 1086.52,732.06 1093.19,730.39 1099.86,726.74 1106.52,725.78 1113.19,728.73 1119.86,729.6 1126.52,729.35 1133.19,728.67 1139.86,726.72 1146.52,725.1 1153.19,726.64 1159.86,728.16 1166.52,730.55 1173.19,730.59 1179.86,737.19 1186.52,743.12 1193.19,746.67 1199.86,749.98 1206.52,755.27 1213.19,760.02 1219.86,761.25 1226.52,761.96 1233.19,761.64 1239.86,759.66 1246.52,758.31 1253.19,759.55 1259.86,762.1 1266.52,763.8 1273.19,763.11 1279.86,761.39 1286.52,761.99 1293.19,761.99 1299.86,765.96 1306.52,770.22 1313.19,773.81 1319.86,774.95 1326.52,775.1 1333.19,778.34 1339.86,779.37 1346.52,779.92 1353.19,781.89 1359.86,782 1366.52,778.21 1373.19,773.87 1379.86,774.41 1386.52,777.73 1393.19,783.15 1399.86,787.75 1406.52,792.11 1413.19,795.53 1419.86,799.37 1426.52,801.47 1433.19,801.71 1439.86,802.26 1446.52,804.22 1453.19,806.1 1459.86,806.43 1466.52,804.75 1473.19,801.42 1479.86,797.92 1486.52,795.49 1493.19,791.55 1499.86,789.21" fill="none" stroke="#f3961c" stroke-width="1.5" stroke-linejoin="round"/>
<rect x="0" y="877" width="1542" height="1" fill="#2a2a2a"/>
<rect x="-0.95" y="878" width="1.6" height="2" fill="#303030"/>
<text x="0" y="890.3" class="dt">15 May 2024</text>
<rect x="79.05" y="878" width="1.6" height="2" fill="#303030"/>
<text x="79.25" y="890.3" class="dt">31 May 2024</text>
<rect x="159.05" y="878" width="1.6" height="2" fill="#303030"/>
<text x="159.25" y="890.3" class="dt">18 Jun 2024</text>
<rect x="239.05" y="878" width="1.6" height="2" fill="#303030"/>
<text x="239.25" y="890.3" class="dt">4 Jul 2024</text>
<rect x="319.05" y="878" width="1.6" height="2" fill="#303030"/>
<text x="319.25" y="890.3" class="dt">22 Jul 2024</text>
<rect x="399.05" y="878" width="1.6" height="2" fill="#303030"/>
<text x="399.25" y="890.3" class="dt">7 Aug 2024</text>
<rect x="479.05" y="878" width="1.6" height="2" fill="#303030"/>
<text x="479.25" y="890.3" class="dt">23 Aug 2024</text>
<rect x="559.05" y="878" width="1.6" height="2" fill="#303030"/>
<text x="559.25" y="890.3" class="dt">10 Sep 2024</text>
<rect x="639.05" y="878" width="1.6" height="2" fill="#303030"/>
<text x="639.25" y="890.3" class="dt">26 Sep 2024</text>
<rect x="719.05" y="878" width="1.6" height="2" fill="#303030"/>
<text x="719.25" y="890.3" class="dt">14 Oct 2024</text>
<rect x="799.05" y="878" width="1.6" height="2" fill="#303030"/>
<text x="799.25" y="890.3" class="dt">30 Oct 2024</text>
<rect x="879.05" y="878" width="1.6" height="2" fill="#303030"/>
<text x="879.25" y="890.3" class="dt">15 Nov 2024</text>
<rect x="959.05" y="878" width="1.6" height="2" fill="#303030"/>
<text x="959.25" y="890.3" class="dt">3 Dec 2024</text>
<rect x="1039.06" y="878" width="1.6" height="2" fill="#303030"/>
<text x="1039.26" y="890.3" class="dt">18 Dec 2024</text>
<rect x="1119.06" y="878" width="1.6" height="2" fill="#303030"/>
<text x="1119.26" y="890.3" class="dt">7 Jan 2025</text>
<rect x="1199.06" y="878" width="1.6" height="2" fill="#303030"/>
<text x="1199.26" y="890.3" class="dt">23 Jan 2025</text>
<rect x="1279.06" y="878" width="1.6" height="2" fill="#303030"/>
<text x="1279.26" y="890.3" class="dt">10 Feb 2025</text>
<rect x="1359.06" y="878" width="1.6" height="2" fill="#303030"/>
<text x="1359.26" y="890.3" class="dt">26 Feb 2025</text>
<rect x="1439.06" y="878" width="1.6" height="2" fill="#303030"/>
<text x="1439.26" y="890.3" class="dt">14 Mar 2025</text>
<path d="M1.8 5H9.6L5.7 9.6Z" fill="#000"/>
<text x="14.5" y="10.9" textLength="81.3" lengthAdjust="spacingAndGlyphs" class="tt">USDINDEX.fs,Daily</text>
<text x="103.5" y="10.9" textLength="161.3" lengthAdjust="spacing" class="tt">104.308 104.311 103.901 104.001</text>
<text x="3" y="656.8" textLength="76.2" lengthAdjust="spacing" class="tt">RSI(14) 42.4550</text>
<text x="86.8" y="656.8" textLength="89.6" lengthAdjust="spacing" class="tt">=&gt;MA(10) 37.8187</text>
<text x="1187.2" y="444.7" textLength="131.4" lengthAdjust="spacingAndGlyphs" class="dc">Daily Chart</text>
</svg>
</body></html>
